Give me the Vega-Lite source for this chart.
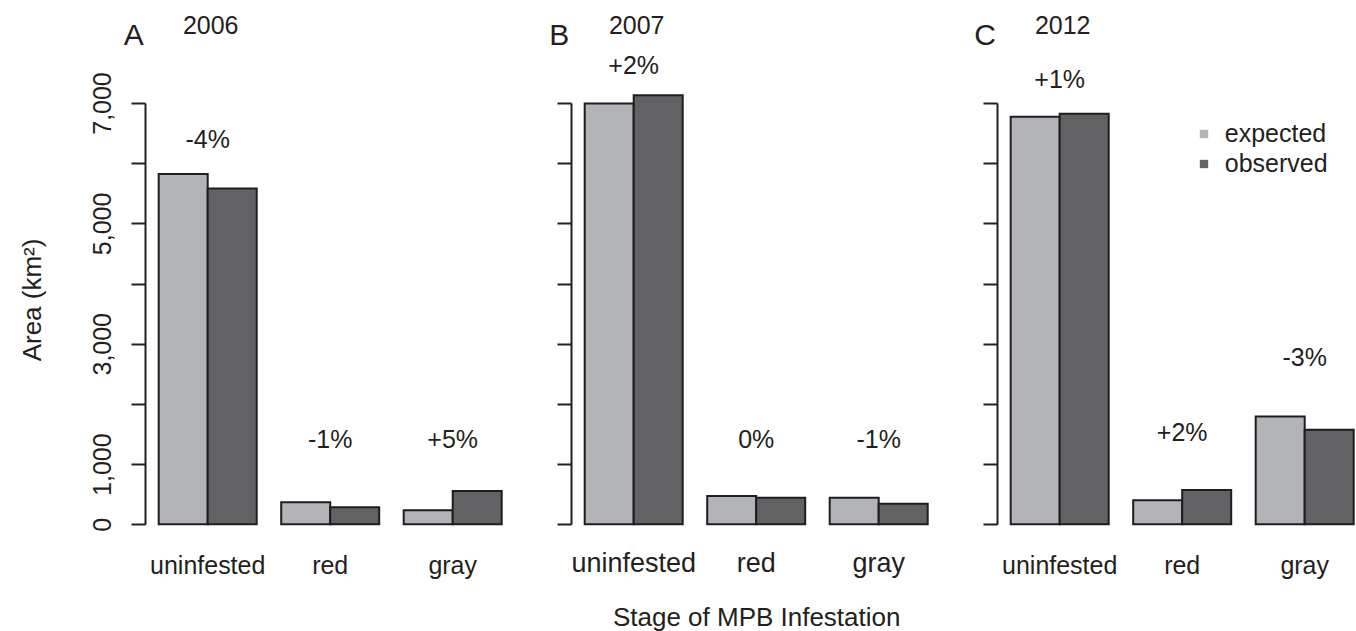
{
  "$schema": "https://vega.github.io/schema/vega-lite/v6.json",
  "background": "white",
  "padding": {"left": 19, "top": 14, "right": 0, "bottom": 0},
  "config": {
    "font": "Liberation Sans",
    "view": {"stroke": null},
    "axis": {
      "labelFont": "Liberation Sans",
      "titleFont": "Liberation Sans",
      "labelColor": "#231f20",
      "titleColor": "#231f20",
      "domainColor": "#231f20",
      "tickColor": "#231f20",
      "grid": false,
      "titleFontWeight": "normal"
    }
  },
  "datasets": {
    "bars": [
      {"panel": "A", "stage": "uninfested", "type": "expected", "area": 5820},
      {"panel": "A", "stage": "uninfested", "type": "observed", "area": 5580},
      {"panel": "A", "stage": "red", "type": "expected", "area": 365},
      {"panel": "A", "stage": "red", "type": "observed", "area": 282},
      {"panel": "A", "stage": "gray", "type": "expected", "area": 233},
      {"panel": "A", "stage": "gray", "type": "observed", "area": 553},
      {"panel": "B", "stage": "uninfested", "type": "expected", "area": 6990},
      {"panel": "B", "stage": "uninfested", "type": "observed", "area": 7130},
      {"panel": "B", "stage": "red", "type": "expected", "area": 470},
      {"panel": "B", "stage": "red", "type": "observed", "area": 440},
      {"panel": "B", "stage": "gray", "type": "expected", "area": 440},
      {"panel": "B", "stage": "gray", "type": "observed", "area": 340},
      {"panel": "C", "stage": "uninfested", "type": "expected", "area": 6770},
      {"panel": "C", "stage": "uninfested", "type": "observed", "area": 6820},
      {"panel": "C", "stage": "red", "type": "expected", "area": 400},
      {"panel": "C", "stage": "red", "type": "observed", "area": 570},
      {"panel": "C", "stage": "gray", "type": "expected", "area": 1790},
      {"panel": "C", "stage": "gray", "type": "observed", "area": 1570}
    ],
    "labels": [
      {"panel": "A", "stage": "uninfested", "label": "-4%", "pos": 6245},
      {"panel": "A", "stage": "red", "label": "-1%", "pos": 1272},
      {"panel": "A", "stage": "gray", "label": "+5%", "pos": 1272},
      {"panel": "B", "stage": "uninfested", "label": "+2%", "pos": 7490},
      {"panel": "B", "stage": "red", "label": "0%", "pos": 1262},
      {"panel": "B", "stage": "gray", "label": "-1%", "pos": 1262},
      {"panel": "C", "stage": "uninfested", "label": "+1%", "pos": 7243},
      {"panel": "C", "stage": "red", "label": "+2%", "pos": 1389},
      {"panel": "C", "stage": "gray", "label": "-3%", "pos": 2630}
    ],
    "titles": [
      {"panel": "A", "letter": "A", "year": "2006"},
      {"panel": "B", "letter": "B", "year": "2007"},
      {"panel": "C", "letter": "C", "year": "2012"}
    ]
  },
  "spacing": 55,
  "bounds": "flush",
  "resolve": {"scale": {"color": "independent", "x": "independent", "y": "independent"}, "legend": {"color": "independent"}},
  "hconcat": [
    {
      "width": 370.4,
      "height": 421.3,
      "layer": [
        {
          "data": {"name": "bars"},
          "transform": [{"filter": "datum.panel === 'A'"}],
          "mark": {"type": "bar", "stroke": "#1e1e1e", "strokeWidth": 2},
          "encoding": {
            "x": {"field": "stage", "type": "nominal", "sort": ["uninfested", "red", "gray"],
              "scale": {"paddingInner": 0.2, "paddingOuter": 0.1118},
              "axis": {"title": null, "labelAngle": 0, "ticks": false, "tickSize": 0, "domain": false, "labelFontSize": 25, "labelPadding": 29, "labelBaseline": "top"}},
            "xOffset": {"field": "type", "type": "nominal", "sort": ["expected", "observed"]},
            "y": {"field": "area", "type": "quantitative", "scale": {"domain": [0, 7000], "nice": false},
              "axis": {"title": "Area (km²)", "values": [0, 1000, 2000, 3000, 4000, 5000, 6000, 7000], "format": ",d",
                "labelExpr": "(datum.value == 2000 || datum.value == 4000 || datum.value == 6000) ? '' : datum.label",
                "labelAngle": -90, "labelAlign": "center", "labelBaseline": "alphabetic", "labelFontSize": 25, "labelPadding": 20.3,
                "tickSize": 14, "tickWidth": 2, "domainWidth": 2, "labelFlush": false, "labelOverlap": false,
                "titleFontSize": 26, "titleAngle": -90, "titleX": -104.3, "titleY": 196.5, "titleAlign": "center", "titleBaseline": "alphabetic"}},
            "color": {"field": "type", "type": "nominal", "scale": {"domain": ["expected", "observed"], "range": ["#b3b4b7", "#626264"]}, "legend": null}
          }
        },
        {
          "data": {"name": "labels"},
          "transform": [{"filter": "datum.panel === 'A'"}],
          "mark": {"type": "text", "fontSize": 25, "baseline": "alphabetic", "color": "#231f20"},
          "encoding": {
            "x": {"field": "stage", "type": "nominal", "sort": ["uninfested", "red", "gray"]},
            "y": {"field": "pos", "type": "quantitative"},
            "text": {"field": "label"}
          }
        },
        {
          "data": {"name": "titles"},
          "transform": [{"filter": "datum.panel === 'A'"}],
          "mark": {"type": "text", "fontSize": 30, "baseline": "alphabetic", "align": "left", "dx": -84, "color": "#231f20"},
          "encoding": {
            "x": {"datum": "uninfested", "type": "nominal"},
            "y": {"datum": 7962, "type": "quantitative"},
            "text": {"field": "letter"}
          }
        },
        {
          "data": {"name": "titles"},
          "transform": [{"filter": "datum.panel === 'A'"}],
          "mark": {"type": "text", "fontSize": 25, "baseline": "alphabetic", "align": "center", "dx": 3, "color": "#231f20"},
          "encoding": {
            "x": {"datum": "uninfested", "type": "nominal"},
            "y": {"datum": 8145, "type": "quantitative"},
            "text": {"field": "year"}
          }
        }
      ]
    },
    {
      "width": 370.4,
      "height": 421.3,
      "layer": [
        {
          "data": {"name": "bars"},
          "transform": [{"filter": "datum.panel === 'B'"}],
          "mark": {"type": "bar", "stroke": "#1e1e1e", "strokeWidth": 2},
          "encoding": {
            "x": {"field": "stage", "type": "nominal", "sort": ["uninfested", "red", "gray"],
              "scale": {"paddingInner": 0.2, "paddingOuter": 0.1118},
              "axis": {"title": "Stage of MPB Infestation", "titleFontSize": 26, "titleY": 101.7, "titleBaseline": "alphabetic",
                "labelAngle": 0, "ticks": false, "tickSize": 0, "domain": false, "labelFontSize": 27, "labelPadding": 26.7, "labelBaseline": "top"}},
            "xOffset": {"field": "type", "type": "nominal", "sort": ["expected", "observed"]},
            "y": {"field": "area", "type": "quantitative", "scale": {"domain": [0, 7000], "nice": false},
              "axis": {"title": null, "labels": false, "values": [0, 1000, 2000, 3000, 4000, 5000, 6000, 7000],
                "tickSize": 14, "tickWidth": 2, "domainWidth": 2}},
            "color": {"field": "type", "type": "nominal", "scale": {"domain": ["expected", "observed"], "range": ["#b3b4b7", "#626264"]}, "legend": null}
          }
        },
        {
          "data": {"name": "labels"},
          "transform": [{"filter": "datum.panel === 'B'"}],
          "mark": {"type": "text", "fontSize": 25, "baseline": "alphabetic", "color": "#231f20"},
          "encoding": {
            "x": {"field": "stage", "type": "nominal", "sort": ["uninfested", "red", "gray"]},
            "y": {"field": "pos", "type": "quantitative"},
            "text": {"field": "label"}
          }
        },
        {
          "data": {"name": "titles"},
          "transform": [{"filter": "datum.panel === 'B'"}],
          "mark": {"type": "text", "fontSize": 30, "baseline": "alphabetic", "align": "left", "dx": -84.5, "color": "#231f20"},
          "encoding": {
            "x": {"datum": "uninfested", "type": "nominal"},
            "y": {"datum": 7962, "type": "quantitative"},
            "text": {"field": "letter"}
          }
        },
        {
          "data": {"name": "titles"},
          "transform": [{"filter": "datum.panel === 'B'"}],
          "mark": {"type": "text", "fontSize": 25, "baseline": "alphabetic", "align": "center", "dx": 3, "color": "#231f20"},
          "encoding": {
            "x": {"datum": "uninfested", "type": "nominal"},
            "y": {"datum": 8145, "type": "quantitative"},
            "text": {"field": "year"}
          }
        }
      ]
    },
    {
      "width": 358,
      "height": 421.3,
      "layer": [
        {
          "data": {"name": "bars"},
          "transform": [{"filter": "datum.panel === 'C'"}],
          "mark": {"type": "bar", "stroke": "#1e1e1e", "strokeWidth": 2},
          "encoding": {
            "x": {"field": "stage", "type": "nominal", "sort": ["uninfested", "red", "gray"],
              "scale": {"paddingInner": 0.2, "paddingOuter": 0.0612, "align": 0.913},
              "axis": {"title": null, "labelAngle": 0, "ticks": false, "tickSize": 0, "domain": false, "labelFontSize": 25, "labelPadding": 29, "labelBaseline": "top"}},
            "xOffset": {"field": "type", "type": "nominal", "sort": ["expected", "observed"]},
            "y": {"field": "area", "type": "quantitative", "scale": {"domain": [0, 7000], "nice": false},
              "axis": {"title": null, "labels": false, "values": [0, 1000, 2000, 3000, 4000, 5000, 6000, 7000],
                "tickSize": 14, "tickWidth": 2, "domainWidth": 2}},
            "color": {"field": "type", "type": "nominal", "scale": {"domain": ["expected", "observed"], "range": ["#b3b4b7", "#626264"]},
              "legend": {"orient": "none", "legendX": 194.5, "legendY": 18.5, "title": null, "symbolType": "square", "symbolSize": 70,
                "symbolStrokeWidth": 0, "labelFontSize": 25, "labelFont": "Liberation Sans", "labelColor": "#231f20",
                "labelOffset": 8.3, "rowPadding": 4, "padding": 0}}
          }
        },
        {
          "data": {"name": "labels"},
          "transform": [{"filter": "datum.panel === 'C'"}],
          "mark": {"type": "text", "fontSize": 25, "baseline": "alphabetic", "color": "#231f20"},
          "encoding": {
            "x": {"field": "stage", "type": "nominal", "sort": ["uninfested", "red", "gray"]},
            "y": {"field": "pos", "type": "quantitative"},
            "text": {"field": "label"}
          }
        },
        {
          "data": {"name": "titles"},
          "transform": [{"filter": "datum.panel === 'C'"}],
          "mark": {"type": "text", "fontSize": 30, "baseline": "alphabetic", "align": "left", "dx": -85.5, "color": "#231f20"},
          "encoding": {
            "x": {"datum": "uninfested", "type": "nominal"},
            "y": {"datum": 7962, "type": "quantitative"},
            "text": {"field": "letter"}
          }
        },
        {
          "data": {"name": "titles"},
          "transform": [{"filter": "datum.panel === 'C'"}],
          "mark": {"type": "text", "fontSize": 25, "baseline": "alphabetic", "align": "center", "dx": 3, "color": "#231f20"},
          "encoding": {
            "x": {"datum": "uninfested", "type": "nominal"},
            "y": {"datum": 8145, "type": "quantitative"},
            "text": {"field": "year"}
          }
        }
      ]
    }
  ]
}
